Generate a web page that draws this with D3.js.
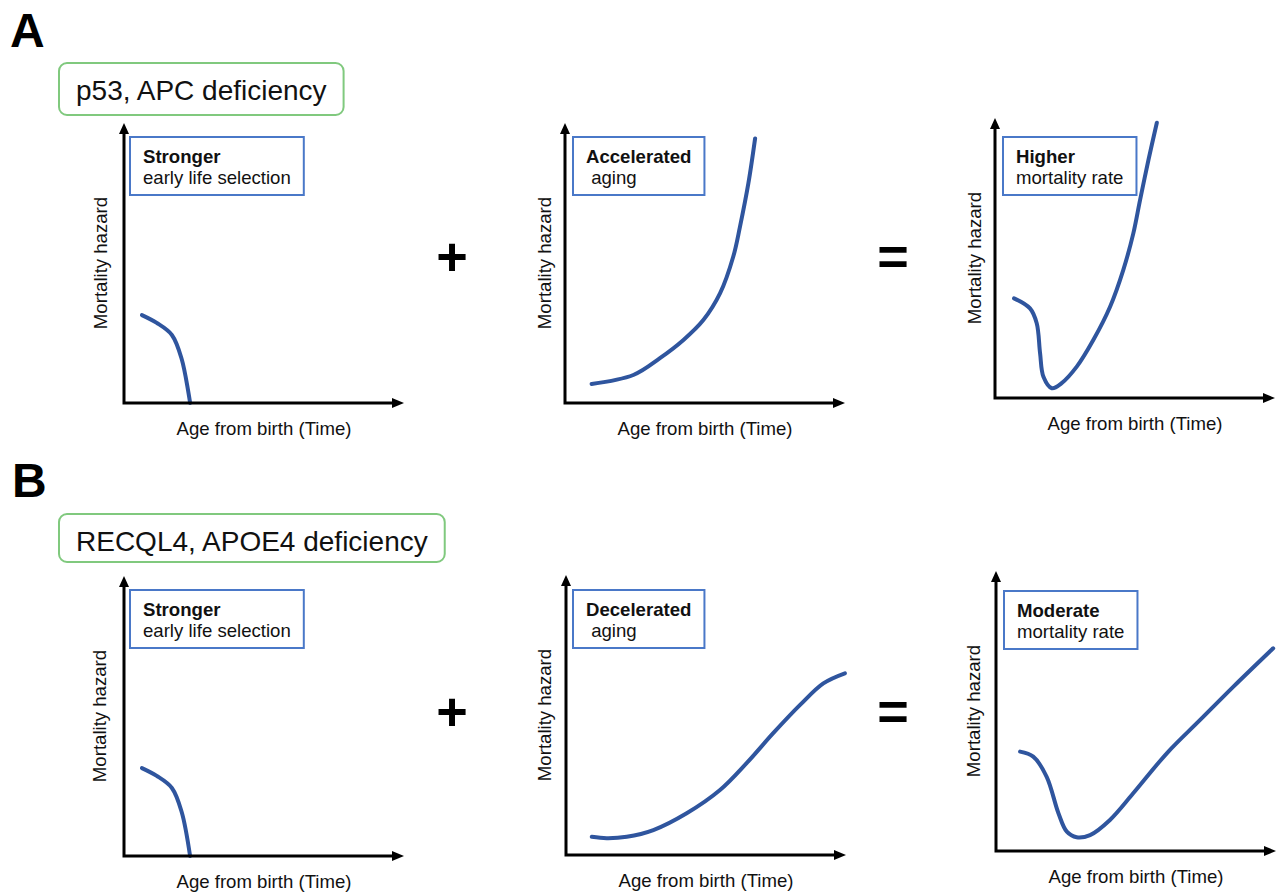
<!DOCTYPE html>
<html>
<head>
<meta charset="utf-8">
<script src="https://cdn.jsdelivr.net/npm/d3@7"></script>
<style>
  body { margin: 0; background: #fff; }
  svg { display: block; }
</style>
</head>
<body>
<svg></svg>
<script>
const WIDTH = 1282;
const HEIGHT = 893;

// text of the figure
const rowLetters = ['A', 'B'];
const rowTitles = ['p53, APC deficiency', 'RECQL4, APOE4 deficiency'];
const boxHeadings = ['Stronger', 'Accelerated', 'Higher', 'Stronger', 'Decelerated', 'Moderate'];
const boxSubtitles = ['early life selection', ' aging', 'mortality rate', 'early life selection', ' aging', 'mortality rate'];
const operators = ['+', '='];
const xLabel = 'Age from birth (Time)';
const yLabel = 'Mortality hazard';

// curves as [age, hazard], both on a 0-100 scale
const earlySelection = [[6.4, 31.4], [11.7, 28.6], [17.1, 24.3], [20.6, 15.7], [23.6, 0]];
const acceleratedAging = [[9.5, 6.8], [24.4, 10.0], [33.9, 16.0], [42.3, 22.5], [49.4, 29.6], [55.4, 39.2],
  [60.1, 52.3], [62.5, 63.0], [65.5, 78.5], [67.9, 94.5]];
const higherMortality = [[6.8, 35.6], [12.5, 32.0], [14.9, 26.7], [16.1, 16.0], [17.3, 7.6], [20.3, 3.5],
  [23.8, 5.3], [29.2, 11.2], [35.1, 20.7], [41.1, 32.6], [45.8, 45.7], [49.4, 58.8], [51.8, 70.7],
  [54.8, 85.0], [57.8, 98.3]];
const deceleratedAging = [[9.2, 6.5], [14.5, 6.0], [21.7, 6.5], [31.2, 8.9], [43.1, 14.9], [55.0, 23.2],
  [64.5, 32.8], [74.0, 43.5], [83.6, 53.6], [91.9, 61.3], [99.6, 64.9]];
const moderateMortality = [[8.6, 35.5], [13.3, 33.7], [18.1, 26.5], [22.3, 13.5], [25.3, 6.9], [28.8, 4.9],
  [33.6, 5.7], [40.7, 11.1], [49.0, 20.6], [61.0, 34.9], [72.9, 46.8], [84.8, 58.7], [99.0, 72.4]];
const panelCurves = [earlySelection, acceleratedAging, higherMortality, earlySelection, deceleratedAging, moderateMortality];

// layout
const PANEL_SIZE = 280;
const panels = [
  { ox: 124, oy: 403, boxDx: 6, boxDy: 266, yGap: 17 },
  { ox: 565, oy: 403, boxDx: 8, boxDy: 266, yGap: 14 },
  { ox: 995, oy: 398, boxDx: 8, boxDy: 261, yGap: 14 },
  { ox: 124, oy: 856, boxDx: 6, boxDy: 266, yGap: 18 },
  { ox: 566, oy: 855, boxDx: 7, boxDy: 265, yGap: 15 },
  { ox: 996, oy: 851, boxDx: 8, boxDy: 260, yGap: 16 }];

const rows = [
  { letterX: 10, letterY: 47, titleTop: 63, titleH: 52, opY: 258 },
  { letterX: 12, letterY: 497, titleTop: 514, titleH: 48, opY: 713 }];
const opX = [452, 893];

const TEXT = '#111';
const CURVE = '#2f559e';
const BOX_BLUE = '#4a78c8';
const BOX_GREEN = '#80c97e';
const FONT = '"Liberation Sans", Arial, sans-serif';
const SMALL = 18.6;

const svg = d3.select('svg').
attr('width', WIDTH).
attr('height', HEIGHT).
attr('font-family', FONT);

/* --ROW HEADERS-- */

rows.forEach((r, i) => {
  svg.append('text').
  text(rowLetters[i]).
  attr('x', r.letterX).
  attr('y', r.letterY).
  attr('font-size', 48).
  attr('font-weight', 'bold').
  attr('fill', '#000');

  const title = svg.append('text').
  text(rowTitles[i]).
  attr('x', 59 + 17).
  attr('y', r.titleTop + 37).
  attr('font-size', 28).
  attr('fill', TEXT);

  const tw = title.node().getComputedTextLength();
  svg.insert('rect', 'text').
  attr('x', 59).
  attr('y', r.titleTop).
  attr('width', tw + 34).
  attr('height', r.titleH).
  attr('rx', 8).
  attr('fill', 'none').
  attr('stroke', BOX_GREEN).
  attr('stroke-width', 2);

  operators.forEach((op, j) => {
    svg.append('text').
    text(op).
    attr('x', opX[j]).
    attr('y', r.opY + 17).
    attr('text-anchor', 'middle').
    attr('font-size', 54).
    attr('font-weight', 'bold').
    attr('fill', '#000');
  });
});

/* --PANELS-- */

panels.forEach((p, i) => {
  const g = svg.append('g');

  const x = d3.scaleLinear().domain([0, 100]).range([p.ox, p.ox + PANEL_SIZE]);
  const y = d3.scaleLinear().domain([0, 100]).range([p.oy, p.oy - PANEL_SIZE]);

  // curve
  const line = d3.line().
  x(d => x(d[0])).
  y(d => y(d[1])).
  curve(d3.curveCatmullRom.alpha(0.5));

  g.append('path').
  datum(panelCurves[i]).
  attr('d', line).
  attr('fill', 'none').
  attr('stroke', CURVE).
  attr('stroke-width', 4).
  attr('stroke-linecap', 'round').
  attr('stroke-linejoin', 'round');

  // axes with arrowheads
  g.append('path').
  attr('d', `M${x(0)},${y(100) + 8}V${y(0)}H${x(100) - 8}`).
  attr('fill', 'none').
  attr('stroke', '#000').
  attr('stroke-width', 3);

  g.append('path').
  attr('d', `M${x(0) - 5},${y(100) + 11}L${x(0)},${y(100)}L${x(0) + 5},${y(100) + 11}Z`).
  attr('fill', '#000');

  g.append('path').
  attr('d', `M${x(100) - 12},${y(0) - 5}L${x(100)},${y(0)}L${x(100) - 12},${y(0) + 5}Z`).
  attr('fill', '#000');

  // axis labels
  g.append('text').
  text(xLabel).
  attr('x', x(50)).
  attr('y', y(0) + 32).
  attr('text-anchor', 'middle').
  attr('font-size', SMALL).
  attr('fill', TEXT);

  g.append('text').
  text(yLabel).
  attr('transform', `translate(${x(0) - p.yGap}, ${(y(0) + y(100)) / 2}) rotate(-90)`).
  attr('text-anchor', 'middle').
  attr('font-size', SMALL).
  attr('fill', TEXT);

  // annotation box
  const bx = p.ox + p.boxDx;
  const by = p.oy - p.boxDy;

  const head = g.append('text').
  text(boxHeadings[i]).
  attr('x', bx + 13).
  attr('y', by + 26).
  attr('font-size', SMALL).
  attr('font-weight', 'bold').
  attr('fill', TEXT);

  const sub = g.append('text').
  text(boxSubtitles[i]).
  attr('x', bx + 13).
  attr('y', by + 47).
  attr('font-size', SMALL).
  attr('fill', TEXT).
  style('white-space', 'pre');

  const bw = Math.max(head.node().getComputedTextLength(), sub.node().getComputedTextLength());

  g.append('rect').
  attr('x', bx).
  attr('y', by).
  attr('width', bw + 26).
  attr('height', 58).
  attr('fill', 'none').
  attr('stroke', BOX_BLUE).
  attr('stroke-width', 2);
});
</script>
</body>
</html>
